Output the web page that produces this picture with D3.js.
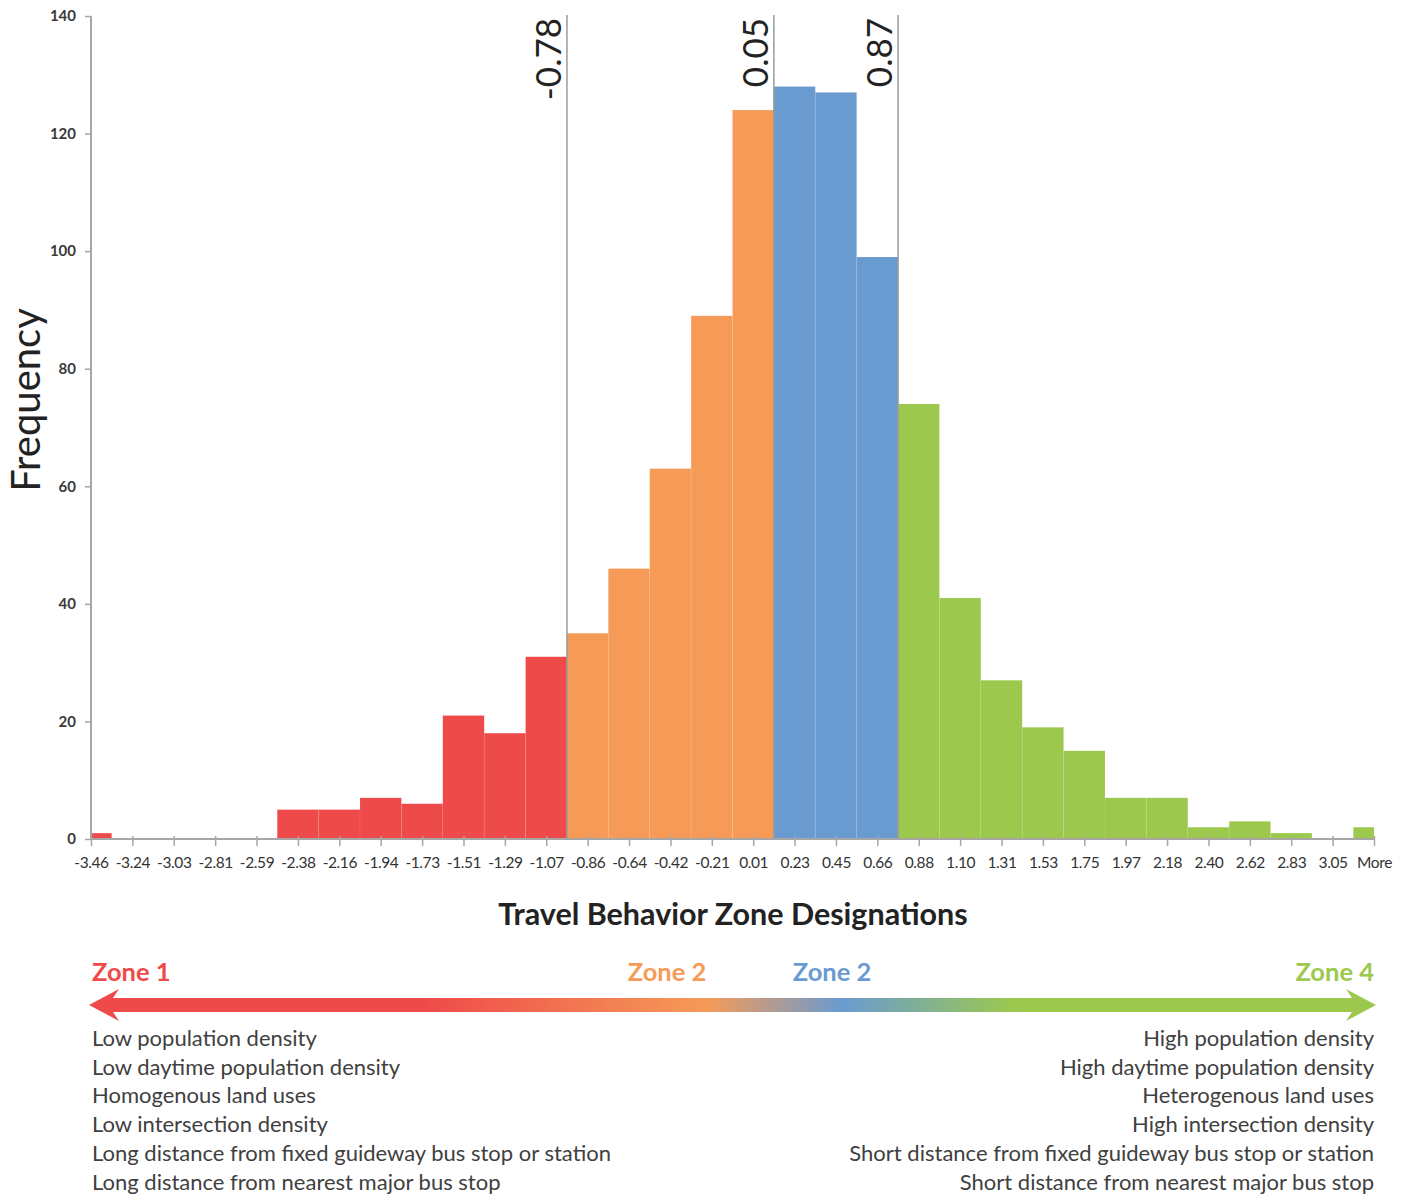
<!DOCTYPE html>
<html>
<head>
<meta charset="utf-8">
<script src="https://cdn.jsdelivr.net/npm/d3@7"></script>
<style>
  body { margin: 0; background: #fff; }
  svg { display: block; font-family: Lato, "Open Sans", sans-serif; }
</style>
</head>
<body>
<svg id="chart" width="1409" height="1196"></svg>
<script>
// ---------- data ----------
const categories = ["-3.46","-3.24","-3.03","-2.81","-2.59","-2.38","-2.16","-1.94","-1.73","-1.51","-1.29","-1.07","-0.86","-0.64","-0.42","-0.21","0.01","0.23","0.45","0.66","0.88","1.10","1.31","1.53","1.75","1.97","2.18","2.40","2.62","2.83","3.05","More"];
const frequencies = [1,0,0,0,0,5,5,7,6,21,18,31,35,46,63,89,124,128,127,99,74,41,27,19,15,7,7,2,3,1,0,2];
const zoneOfBin = [0,0,0,0,0,0,0,0,0,0,0,0,1,1,1,1,1,2,2,2,3,3,3,3,3,3,3,3,3,3,3,3];
const zoneColors = ["#ef4a4a","#f59b57","#6a9bd0","#9cc94d"];
const zoneNames = ["Zone 1","Zone 2","Zone 2","Zone 4"];
const thresholdLabels = ["-0.78","0.05","0.87"];
const thresholdAfterBin = [11,16,19];
const yTicks = [0,20,40,60,80,100,120,140];
const leftTraits = ["Low population density","Low daytime population density","Homogenous land uses","Low intersection density","Long distance from fixed guideway bus stop or station","Long distance from nearest major bus stop"];
const rightTraits = ["High population density","High daytime population density","Heterogenous land uses","High intersection density","Short distance from fixed guideway bus stop or station","Short distance from nearest major bus stop"];

// ---------- layout ----------
const svg = d3.select("#chart");
const L = 91, R = 1374, T = 16, B = 839;
const x = d3.scalePoint().domain(categories).range([L, R]);
const step = x.step();
const y = d3.scaleLinear().domain([0, 140]).range([B, T]);
const axisColor = "#a6a6a6";

svg.append("defs").append("clipPath").attr("id", "plotClip")
  .append("rect").attr("x", L).attr("y", 0).attr("width", R - L).attr("height", B + 1);

// bars
svg.append("g").attr("clip-path", "url(#plotClip)")
  .selectAll("rect").data(categories).join("rect")
  .attr("x", d => x(d) - step / 2)
  .attr("width", step)
  .attr("y", (d, i) => y(frequencies[i]))
  .attr("height", (d, i) => B - y(frequencies[i]))
  .attr("fill", (d, i) => zoneColors[zoneOfBin[i]])
  .attr("stroke", "rgba(255,255,255,0.07)")
  .attr("stroke-width", 1);

// y axis
const yAxis = svg.append("g").attr("transform", `translate(${L},0)`)
  .call(d3.axisLeft(y).tickValues(yTicks).tickSize(6).tickPadding(9));
yAxis.select(".domain").attr("stroke", axisColor).attr("stroke-width", 2).attr("d", `M0,${T}V${B}`);
yAxis.selectAll(".tick line").attr("stroke", axisColor).attr("stroke-width", 1.5);
yAxis.selectAll(".tick text").attr("fill", "#3a3a3a").style("font-size", "15px").style("font-weight", "700")
  .style("font-family", "Lato, sans-serif");

// x axis
const xAxis = svg.append("g").attr("transform", `translate(0,${B})`)
  .call(d3.axisBottom(x).tickSize(7).tickPadding(11));
xAxis.select(".domain").attr("stroke", axisColor).attr("stroke-width", 2).attr("d", `M${L},0H${R}`);
xAxis.selectAll(".tick line").attr("stroke", axisColor).attr("stroke-width", 1.5).attr("y1", -3);
xAxis.selectAll(".tick text").attr("fill", "#333").style("font-size", "15.5px")
  .style("font-family", "Lato, sans-serif").style("letter-spacing", "-0.4px");

// threshold lines
const thr = svg.append("g");
thresholdLabels.forEach((lab, k) => {
  const xi = (x(categories[thresholdAfterBin[k]]) + x(categories[thresholdAfterBin[k] + 1])) / 2;
  thr.append("line").attr("x1", xi).attr("x2", xi).attr("y1", T - 1).attr("y2", B)
    .attr("stroke", "#9a9a9a").attr("stroke-width", 1.5);
  thr.append("text")
    .attr("transform", `translate(${xi - 6},${T + 2}) rotate(-90)`)
    .attr("text-anchor", "end")
    .attr("fill", "#222").style("font-size", "35px")
    .text(lab);
});

// axis titles
svg.append("text").attr("transform", `translate(40,${400}) rotate(-90)`)
  .attr("text-anchor", "middle").attr("fill", "#222").style("font-size", "40px").text("Frequency");
svg.append("text").attr("x", 733).attr("y", 925)
  .attr("text-anchor", "middle").attr("fill", "#222").style("font-size", "30.5px").style("font-weight", "700")
  .text("Travel Behavior Zone Designations");

// zone labels
const zoneLabelX = [L + 1, 667, 832, R];
const zoneAnchors = ["start", "middle", "middle", "end"];
svg.append("g").selectAll("text").data(zoneNames).join("text")
  .attr("x", (d, i) => zoneLabelX[i]).attr("y", 981)
  .attr("text-anchor", (d, i) => zoneAnchors[i])
  .attr("fill", (d, i) => zoneColors[i])
  .style("font-size", "25.5px").style("font-weight", "700").text(d => d);

// gradient arrow
const grad = svg.select("defs").append("linearGradient").attr("id", "zoneGrad")
  .attr("gradientUnits", "userSpaceOnUse").attr("x1", L - 2).attr("x2", R + 2).attr("y1", 0).attr("y2", 0);
const stops = [[0, zoneColors[0]], [0.26, zoneColors[0]], [0.48, zoneColors[1]], [0.585, zoneColors[2]], [0.72, zoneColors[3]], [1, zoneColors[3]]];
grad.selectAll("stop").data(stops).join("stop")
  .attr("offset", d => d[0]).attr("stop-color", d => d[1]);
const ay = 1005, sh = 7, hh = 16, hl = 30;
const ax0 = L - 2, ax1 = R + 2;
svg.append("path")
  .attr("d", `M${ax0},${ay} L${ax0 + hl},${ay - hh} L${ax0 + hl - 6},${ay - sh} L${ax1 - hl + 6},${ay - sh} L${ax1 - hl},${ay - hh} L${ax1},${ay} L${ax1 - hl},${ay + hh} L${ax1 - hl + 6},${ay + sh} L${ax0 + hl - 6},${ay + sh} L${ax0 + hl},${ay + hh} Z`)
  .attr("fill", "url(#zoneGrad)");

// trait lists
const lineGap = 28.7;
svg.append("g").selectAll("text").data(leftTraits).join("text")
  .attr("x", L + 1).attr("y", (d, i) => 1046 + i * lineGap)
  .attr("fill", "#404040").style("font-size", "22px").text(d => d);
svg.append("g").selectAll("text").data(rightTraits).join("text")
  .attr("x", R).attr("y", (d, i) => 1046 + i * lineGap).attr("text-anchor", "end")
  .attr("fill", "#404040").style("font-size", "22px").text(d => d);
</script>
</body>
</html>
